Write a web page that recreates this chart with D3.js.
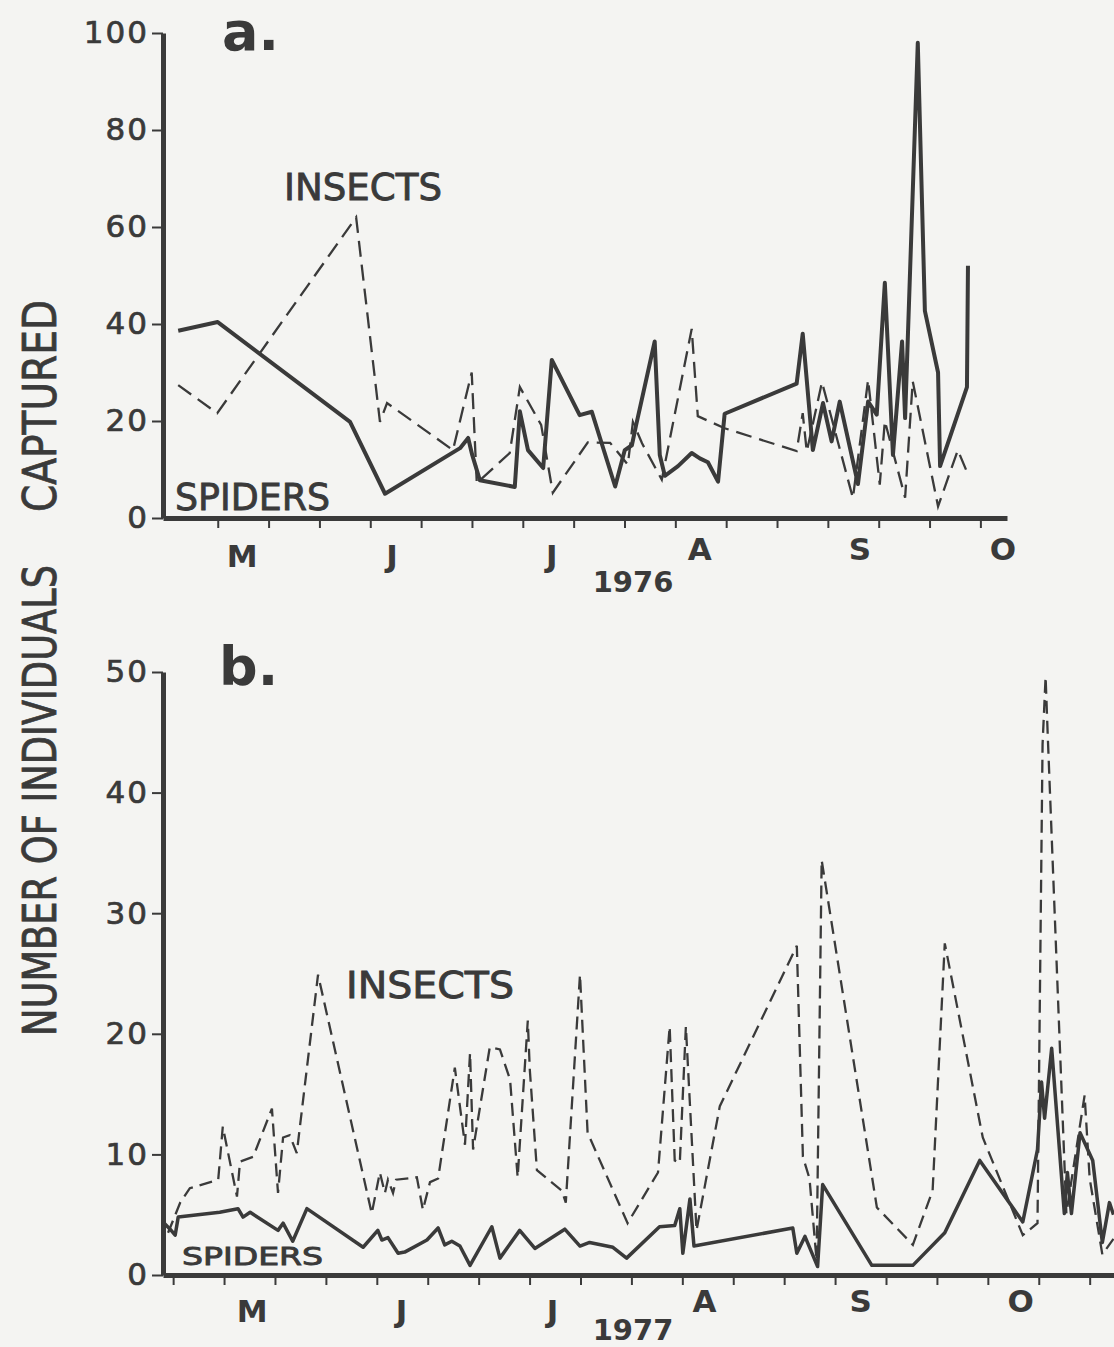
<!DOCTYPE html>
<html>
<head>
<meta charset="utf-8">
<script src="https://cdn.jsdelivr.net/npm/d3@7"></script>
<style>
  html, body { margin: 0; padding: 0; background: #f4f4f2; }
  svg { display: block; }
  text { font-family: "DejaVu Sans", "Liberation Sans", sans-serif; fill: #3a3a3a; }
</style>
</head>
<body>
<svg id="chart" width="1114" height="1347"></svg>
<script>
// ---------- DATA (day index from late April, value = number captured) ----------
// Panel a: 1976
const spidersA_day = [3.0,10.8,36.9,43.8,58.6,60.2,61.0,62.5,69.4,70.4,72.0,75.0,76.7,82.2,84.6,89.2,91.1,92.5,93.3,97.0,98.0,99.0,101.6,104.3,105.9,107.5,109.5,110.8,125.0,126.2,128.2,130.2,131.9,133.5,137.1,139.1,140.8,142.4,144.0,145.8,146.4,148.9,150.3,152.9,153.3,158.6,158.8];
const spidersA_val = [38.6,40.4,19.8,5.0,14.4,16.5,13,7.8,6.4,22,14,10.3,32.6,21.2,21.9,6.5,14,15,19,36.4,13,8.7,10.7,13.4,12.3,11.5,7.5,21.5,27.7,38,14,23.7,15.8,24,7,24,21.3,48.5,13,36.4,20.6,98,42.7,30,10.7,27,52];
const insectsA_day = [3.0,10.7,38.1,42.8,44.2,57.2,60.9,61.9,68.4,70.4,74.6,76.9,83.8,88.2,91.7,92.7,94.5,98.4,104.3,105.5,110.8,125.0,126.2,127.0,130.0,136.1,139.1,141.4,142.4,146.4,147.9,152.9,156.8,158.8];
const insectsA_val = [27.4,21.6,62,19.8,23.7,14,30,7.2,13.4,27,19.2,5.2,15.6,15.5,11,19.8,15.4,7.9,39,21,18.5,13.8,21.6,13.7,28,4.1,28.5,6.9,20,4.2,28.2,2.4,14,9];

// Panel b: 1977
const spidersB_day = [0,1.4,2.4,3.0,11.2,14.8,15.8,17.2,22.7,23.7,25.6,28.4,39.5,42.4,43.2,44.4,46.4,47.7,52.1,54.3,55.6,57.0,58.6,60.6,64.9,66.5,70.4,73.4,79.3,82.3,84.2,88.8,91.5,98.0,101.0,102.0,102.6,104.0,104.8,124.3,125.1,126.7,129.2,130.2,139.9,148.0,154.3,161.2,169.7,172.6,173.4,174.0,175.4,177.9,178.5,179.3,181.0,183.5,185.4,186.8,187.6];
const spidersB_val = [4.4,3.8,3.3,4.8,5.2,5.5,4.8,5.2,3.7,4.3,2.8,5.5,2.3,3.7,2.9,3.1,1.8,1.9,2.9,3.9,2.5,2.8,2.4,0.8,4.0,1.4,3.7,2.2,3.8,2.4,2.7,2.3,1.4,4.0,4.1,5.5,1.8,6.3,2.4,3.9,1.8,3.2,0.7,7.5,0.8,0.8,3.5,9.5,4.4,10.4,16,13,18.8,5.1,8.5,5.1,11.8,9.5,2.7,6.0,5.0];
const insectsB_day = [1.0,3.4,5.3,10.9,11.8,14.6,15.2,17.8,21.5,22.7,23.7,25.0,26.4,30.6,41.2,42.8,43.8,44.4,45.4,46.0,50.1,51.3,52.7,54.3,57.6,59.6,60.6,61.2,64.5,66.5,68.5,70.0,72.0,72.4,73.8,78.7,79.5,82.3,83.8,91.7,97.7,100.0,101.0,102.0,103.2,105.3,109.9,125.1,126.3,127.6,129.0,130.0,140.9,148.0,151.9,154.3,161.8,169.7,172.6,173.6,174.2,174.6,178.3,181.9,182.9,185.4,187.6];
const insectsB_val = [3.5,6.0,7.2,7.9,12.3,6.5,9.4,9.8,13.8,6.8,11.4,11.6,10.1,24.9,5.1,8.5,6.8,7.9,6.8,7.9,8.1,5.4,7.7,8.0,17.2,10.8,18.4,10.4,18.9,18.7,16.2,8.1,21.1,17.0,8.7,7.0,6.0,24.9,11.8,4.3,8.5,20.6,9.5,9.3,20.6,3.7,14.0,27.3,9.8,8.0,1.2,34.4,5.6,2.5,7.0,27.5,11.4,3.3,4.3,44,49.6,45,5.1,14.9,8.0,1.7,3.0];

// Axis ticks and labels
const yTicksA = [0, 20, 40, 60, 80, 100];
const yTicksB = [0, 10, 20, 30, 40, 50];
const monthLabels = ["M", "J", "J", "A", "S", "O"];
const monthDaysA = [15.6, 45.2, 76.7, 105.9, 137.5, 165.7];
const monthDaysB = [17.6, 47.1, 76.9, 106.9, 137.7, 169.3];
const xTicksA = d3.range(10.8, 162, 10.03);
const xTicksB = d3.range(2.0, 186, 10.05);
const yearA = "1976", yearB = "1977";

// ---------- DRAW ----------
const svg = d3.select("#chart");
const ink = "#3a3a3a";

function panel(cfg) {
  const g = svg.append("g");
  const x = d3.scaleLinear().domain(cfg.xDomain).range([163, cfg.xEnd]);
  const y = d3.scaleLinear().domain(cfg.yDomain).range([cfg.yBottom, cfg.yTop]);

  // y axis
  const ya = g.append("g").attr("transform", "translate(163,0)")
    .call(d3.axisLeft(y).tickValues(cfg.yTicks).tickSize(11).tickSizeOuter(0).tickPadding(3));
  ya.select(".domain").attr("stroke", ink).attr("stroke-width", 5);
  ya.selectAll(".tick line").attr("stroke", ink).attr("stroke-width", 2);
  ya.selectAll(".tick text").attr("font-size", 31).attr("fill", ink)
    .attr("stroke", ink).attr("stroke-width", 0.7)
    .attr("font-family", "DejaVu Sans, sans-serif").style("letter-spacing", "2px");

  // x axis
  const xa = g.append("g").attr("transform", `translate(0,${cfg.yBottom})`)
    .call(d3.axisBottom(x).tickValues(cfg.xTicks).tickSize(10).tickSizeOuter(0).tickFormat(""));
  xa.select(".domain").attr("stroke", ink).attr("stroke-width", 5);
  xa.selectAll(".tick line").attr("stroke", ink).attr("stroke-width", 2);

  // month labels
  g.selectAll(".month").data(monthLabels).join("text")
    .attr("x", (d, i) => x(cfg.monthDays[i]))
    .attr("y", (d, i) => i < 3 ? cfg.monthY : cfg.monthY2)
    .attr("text-anchor", "middle").attr("font-size", 31).attr("font-weight", "bold")
    .text(d => d);

  // year label
  g.append("text").attr("x", 633).attr("y", cfg.yearY).attr("text-anchor", "middle")
    .attr("font-size", 29).attr("font-weight", "bold").text(cfg.year);

  const line = d3.line().x(d => x(d[0])).y(d => y(d[1]));

  // insects (dashed)
  g.append("path").datum(d3.zip(cfg.insDay, cfg.insVal))
    .attr("d", line).attr("fill", "none").attr("stroke", ink)
    .attr("stroke-width", 2.3).attr("stroke-dasharray", cfg.dash)
    .attr("stroke-linejoin", "miter");

  // spiders (solid)
  g.append("path").datum(d3.zip(cfg.spiDay, cfg.spiVal))
    .attr("d", line).attr("fill", "none").attr("stroke", ink)
    .attr("stroke-width", cfg.solidW).attr("stroke-linejoin", "round");

  // panel letter
  g.append("text").attr("x", cfg.letterX).attr("y", cfg.letterY)
    .attr("font-size", 54).attr("font-weight", "bold").text(cfg.letter);

  // series labels
  g.append("text").attr("x", cfg.insLbl[0]).attr("y", cfg.insLbl[1])
    .attr("font-size", cfg.insLbl[3]).attr("textLength", cfg.insLbl[2])
    .attr("stroke", ink).attr("stroke-width", 0.9)
    .attr("lengthAdjust", "spacingAndGlyphs").text("INSECTS");
  g.append("text").attr("x", cfg.spiLbl[0]).attr("y", cfg.spiLbl[1])
    .attr("font-size", cfg.spiLbl[3]).attr("textLength", cfg.spiLbl[2])
    .attr("stroke", ink).attr("stroke-width", 0.9)
    .attr("lengthAdjust", "spacingAndGlyphs").text("SPIDERS");
}

panel({
  xDomain: [0, 166.5], xEnd: 1007, yDomain: [0, 100], yBottom: 518, yTop: 33,
  yTicks: yTicksA, xTicks: xTicksA, monthDays: monthDaysA, monthY: 567, monthY2: 560,
  year: yearA, yearY: 592, insDay: insectsA_day, insVal: insectsA_val,
  spiDay: spidersA_day, spiVal: spidersA_val, dash: "16,8", solidW: 4,
  letter: "a.", letterX: 222, letterY: 50,
  insLbl: [284, 200, 158, 38], spiLbl: [175, 510, 155, 38]
});

panel({
  xDomain: [0, 187.7], xEnd: 1114, yDomain: [0, 50], yBottom: 1275, yTop: 672,
  yTicks: yTicksB, xTicks: xTicksB, monthDays: monthDaysB, monthY: 1322, monthY2: 1312,
  year: yearB, yearY: 1340, insDay: insectsB_day, insVal: insectsB_val,
  spiDay: spidersB_day, spiVal: spidersB_val, dash: "13,7", solidW: 3.5,
  letter: "b.", letterX: 219, letterY: 685,
  insLbl: [346, 998, 168, 37], spiLbl: [182, 1265, 141, 25]
});

// shared y-axis title
svg.append("text").attr("transform", "translate(56,512) rotate(-90)")
  .attr("font-size", 46).attr("textLength", 212).attr("lengthAdjust", "spacingAndGlyphs")
  .attr("stroke", ink).attr("stroke-width", 0.8)
  .text("CAPTURED");
svg.append("text").attr("transform", "translate(56,1036) rotate(-90)")
  .attr("font-size", 46).attr("textLength", 471).attr("lengthAdjust", "spacingAndGlyphs")
  .attr("stroke", ink).attr("stroke-width", 0.8)
  .text("NUMBER OF INDIVIDUALS");
</script>
</body>
</html>
